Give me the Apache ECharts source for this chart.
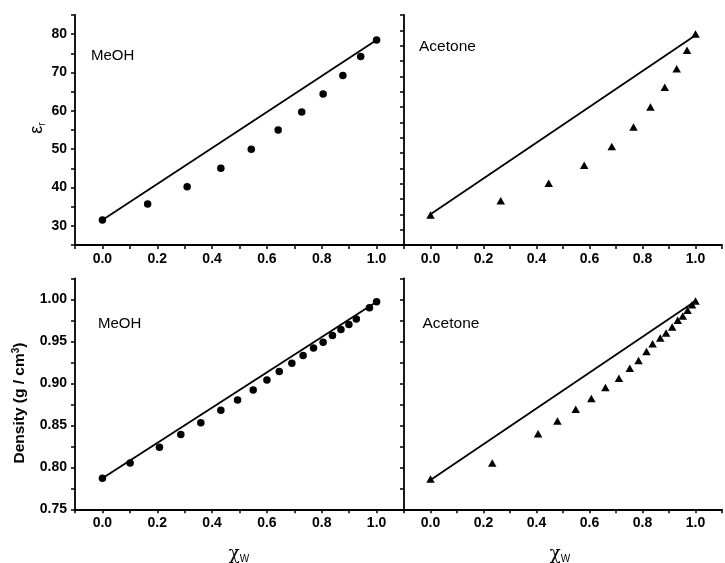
<!DOCTYPE html>
<html>
<head>
<meta charset="utf-8">
<script src="https://cdn.jsdelivr.net/npm/echarts@6/dist/echarts.min.js"></script>
<style>
html,body{margin:0;padding:0;background:#fff;}
#c{width:725px;height:563px;}
</style>
</head>
<body>
<div id="c"></div>
<script>
// ---- data ----
const meohEpsX = [0, 0.165, 0.309, 0.432, 0.543, 0.641, 0.727, 0.805, 0.877, 0.942, 1.0];
const meohEpsY = [31.5, 35.7, 40.2, 45.0, 50.0, 55.0, 59.7, 64.4, 69.2, 74.2, 78.5];
const meohEpsLineX = [0, 1];
const meohEpsLineY = [31.5, 78.5];

const acetEpsX = [0, 0.265, 0.446, 0.580, 0.684, 0.766, 0.830, 0.884, 0.929, 0.968, 1.0];
const acetEpsY = [19.8, 24.4, 30.1, 36.0, 42.1, 48.5, 55.0, 61.4, 67.5, 73.5, 78.8];
const acetEpsLineX = [0, 1];
const acetEpsLineY = [20.0, 78.4];

const meohDenX = [0, 0.101, 0.208, 0.286, 0.359, 0.432, 0.493, 0.550, 0.600, 0.645, 0.691, 0.732, 0.770, 0.805, 0.839, 0.870, 0.899, 0.926, 0.974, 1.0];
const meohDenY = [0.787, 0.805, 0.824, 0.839, 0.853, 0.868, 0.880, 0.892, 0.904, 0.914, 0.924, 0.933, 0.942, 0.949, 0.957, 0.964, 0.970, 0.9765, 0.990, 0.997];
const meohDenLineX = [0, 1];
const meohDenLineY = [0.787, 0.997];

const acetDenX = [0, 0.233, 0.406, 0.479, 0.548, 0.607, 0.660, 0.711, 0.752, 0.785, 0.815, 0.838, 0.867, 0.889, 0.912, 0.933, 0.952, 0.970, 0.987, 1.0];
const acetDenY = [0.786, 0.805, 0.840, 0.855, 0.869, 0.882, 0.895, 0.906, 0.918, 0.927, 0.938, 0.947, 0.954, 0.960, 0.967, 0.975, 0.980, 0.987, 0.9936, 0.998];
const acetDenLineX = [0, 1];
const acetDenLineY = [0.785, 0.998];

const xTickLabels = ['0.0', '0.2', '0.4', '0.6', '0.8', '1.0'];
const epsTickLabels = ['30', '40', '50', '60', '70', '80'];
const denTickLabels = ['0.75', '0.80', '0.85', '0.90', '0.95', '1.00'];

// ---- helpers ----
const FONT = "'Liberation Sans', Arial, sans-serif";
const zip = (xs, ys) => xs.map((x, i) => [x, ys[i]]);

function xAxis(gi) {
  return {
    type: 'value', gridIndex: gi, min: -0.1, max: 1.1, interval: 0.1,
    axisLine: { onZero: false, lineStyle: { color: '#000', width: 1.8 } },
    axisTick: { inside: false, length: 4, lineStyle: { color: '#000', width: 1.5 } },
    splitLine: { show: false },
    axisLabel: {
      margin: 7, color: '#000', fontSize: 14, fontWeight: 'bold', fontFamily: FONT,
      formatter: v => { const s = (Math.round(v * 10) / 10).toFixed(1); return xTickLabels.includes(s) ? s : ''; }
    }
  };
}
function yAxis(gi, min, max, interval, labels, digits, showLabels) {
  return {
    type: 'value', gridIndex: gi, min: min, max: max, interval: interval, position: 'left',
    axisLine: { show: true, onZero: false, lineStyle: { color: '#000', width: 1.8 } },
    axisTick: { show: true, inside: false, length: 4, lineStyle: { color: '#000', width: 1.5 } },
    splitLine: { show: false },
    axisLabel: {
      show: showLabels, margin: 8, color: '#000', fontSize: 14, fontWeight: 'bold', fontFamily: FONT,
      formatter: v => { const s = v.toFixed(digits); return labels.includes(s) ? s : ''; }
    }
  };
}
function scatter(gi, data, sym, size) {
  return { type: 'scatter', xAxisIndex: gi, yAxisIndex: gi, data: data, symbol: sym, symbolSize: size,
    itemStyle: { color: '#000', opacity: 1 }, z: 3 };
}
function line(gi, data) {
  return { type: 'line', xAxisIndex: gi, yAxisIndex: gi, data: data, showSymbol: false, symbol: 'none',
    lineStyle: { color: '#000', width: 1.8 }, z: 2 };
}
function label(x, y, t, size) {
  return { type: 'text', x: x, y: y, style: { text: t, fill: '#000', font: size + 'px ' + FONT, align: 'left', verticalAlign: 'middle' } };
}
function chiLabel(x, y) {
  return { type: 'text', x: x, y: y,
    style: { text: '{a|χ}{b|W}', fill: '#000', align: 'center', verticalAlign: 'middle',
      rich: { a: { fontSize: 18, fontFamily: "'DejaVu Serif', serif", lineHeight: 20, verticalAlign: 'middle' },
              b: { fontSize: 10, fontFamily: FONT, lineHeight: 20, verticalAlign: 'bottom' } } } };
}

const chart = echarts.init(document.getElementById('c'), null, { renderer: 'canvas' });
chart.setOption({
  animation: false,
  backgroundColor: '#fff',
  grid: [
    { left: 75, top: 15, width: 329, height: 230 },
    { left: 404, top: 15, width: 329, height: 230 },
    { left: 75, top: 278.3, width: 329, height: 231 },
    { left: 404, top: 278.3, width: 329, height: 231 }
  ],
  xAxis: [xAxis(0), xAxis(1), xAxis(2), xAxis(3)],
  yAxis: [
    yAxis(0, 25, 85, 5, epsTickLabels, 0, true),
    yAxis(1, 10, 85, 5, [], 0, false),
    yAxis(2, 0.75, 1.025, 0.025, denTickLabels, 2, true),
    yAxis(3, 0.75, 1.025, 0.025, [], 2, false)
  ],
  series: [
    line(0, zip(meohEpsLineX, meohEpsLineY)),
    scatter(0, zip(meohEpsX, meohEpsY), 'circle', 7.5),
    line(1, zip(acetEpsLineX, acetEpsLineY)),
    scatter(1, zip(acetEpsX, acetEpsY), 'triangle', [8.5, 7.5]),
    line(2, zip(meohDenLineX, meohDenLineY)),
    scatter(2, zip(meohDenX, meohDenY), 'circle', 7.5),
    line(3, zip(acetDenLineX, acetDenLineY)),
    scatter(3, zip(acetDenX, acetDenY), 'triangle', [8.5, 7.5])
  ],
  graphic: [
    label(91, 55.5, 'MeOH', 15),
    label(419, 46.5, 'Acetone', 15.5),
    label(98, 324, 'MeOH', 15),
    label(422.5, 324, 'Acetone', 15.5),
    { type: 'text', x: 37, y: 128, rotation: Math.PI / 2,
      style: { text: '{a|ε}{b|r}', fill: '#000', align: 'center', verticalAlign: 'middle',
        rich: { a: { fontSize: 18, fontFamily: FONT, lineHeight: 20, verticalAlign: 'middle' },
                b: { fontSize: 10, fontFamily: FONT, lineHeight: 20, verticalAlign: 'bottom' } } } },
    { type: 'text', x: 20, y: 403, rotation: Math.PI / 2,
      style: { text: '{a|Density (g / cm}{s|3}{a|)}', fill: '#000', align: 'center', verticalAlign: 'middle',
        rich: { a: { fontSize: 15.5, fontWeight: 'bold', fontFamily: FONT, lineHeight: 18, verticalAlign: 'middle' },
                s: { fontSize: 10, fontWeight: 'bold', fontFamily: FONT, lineHeight: 18, verticalAlign: 'top' } } } },
    chiLabel(239, 554),
    chiLabel(560, 554)
  ]
});
</script>
</body>
</html>
